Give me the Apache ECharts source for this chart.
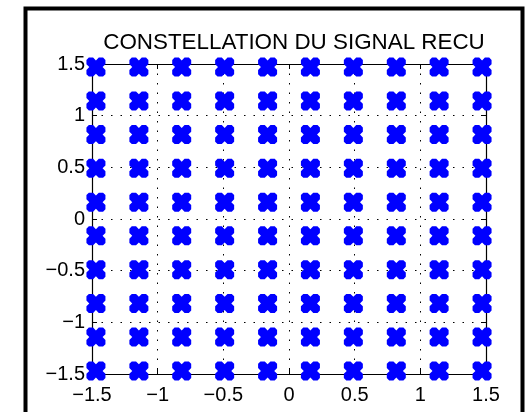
<!DOCTYPE html>
<html>
<head>
<meta charset="utf-8">
<style>
html,body{margin:0;padding:0;background:#fff;}
#chart{width:526px;height:412px;}
</style>
<script src="https://cdn.jsdelivr.net/npm/echarts@6/dist/echarts.min.js"></script>
</head>
<body>
<div id="chart"></div>
<script>
// Constellation levels (in-phase and quadrature)
var iLevels = [-1.47, -1.143, -0.817, -0.49, -0.163, 0.163, 0.49, 0.817, 1.143, 1.47];
var qLevels = [-1.47, -1.143, -0.817, -0.49, -0.163, 0.163, 0.49, 0.817, 1.143, 1.47];
var tickValues = [-1.5, -1, -0.5, 0, 0.5, 1, 1.5];
var titleText = 'CONSTELLATION DU SIGNAL RECU';

var points = [];
iLevels.forEach(function (x) {
  qLevels.forEach(function (y) { points.push([x, y]); });
});

var font = 'Liberation Sans, Arial, Helvetica, sans-serif';
function fmt(v) {
  return String(v).replace('-', '\u2212');
}
var gridLine = {show: true, lineStyle: {color: '#000', type: [1.5, 8], width: 1}};
function axisBase(pos, showLabel) {
  return {
    type: 'value', position: pos, min: -1.5, max: 1.5, interval: 0.5,
    axisLine: {show: true, onZero: false, lineStyle: {color: '#000', width: 1.2}},
    axisTick: {show: true, inside: true, length: 5, lineStyle: {color: '#000', width: 1}},
    axisLabel: {show: showLabel, color: '#000', fontSize: 20, fontFamily: font, formatter: fmt,
      showMinLabel: true, showMaxLabel: true},
    splitLine: {show: false}
  };
}
var xBottom = axisBase('bottom', true); xBottom.axisLabel.margin = 11; xBottom.splitLine = gridLine;
var xTop = axisBase('top', false);
var yLeft = axisBase('left', true); yLeft.axisLabel.margin = 7; yLeft.splitLine = gridLine;
var yRight = axisBase('right', false);

var chart = echarts.init(document.getElementById('chart'), null, {renderer: 'canvas'});
chart.setOption({
  animation: false,
  backgroundColor: '#fff',
  title: {
    text: titleText, left: 289, top: 27, textAlign: 'center',
    textStyle: {color: '#000', fontSize: 22.4, fontWeight: 'normal', fontFamily: font}
  },
  grid: {left: 92, right: 40, top: 64, bottom: 38},
  xAxis: [xBottom, xTop],
  yAxis: [yLeft, yRight],
  graphic: [{
    type: 'rect', left: 23, top: 6, z: 100,
    shape: {x: 0, y: 0, width: 497, height: 430},
    style: {fill: 'none', stroke: '#000', lineWidth: 4}
  }],
  series: [{
    type: 'scatter', xAxisIndex: 0, yAxisIndex: 0, clip: false,
    symbol: 'path://M0,2.5 L2.5,0 L7,0 L10,3 L13,0 L17.5,0 L20,2.5 L20,7 L17,10 L20,13 L20,17.5 L17.5,20 L13,20 L10,17 L7,20 L2.5,20 L0,17.5 L0,13 L3,10 L0,7 Z',
    symbolSize: 19,
    itemStyle: {color: '#0000ff', opacity: 1},
    data: points
  }]
});
</script>
</body>
</html>
